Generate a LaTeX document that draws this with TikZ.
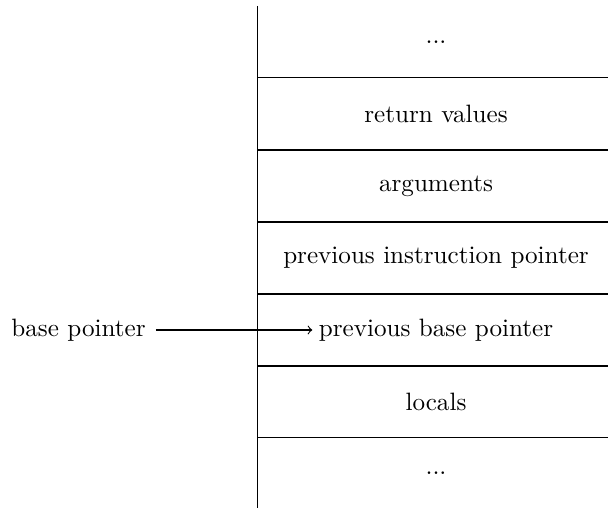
\documentclass[tikz,border=0pt]{standalone}
\begin{document}
\begin{tikzpicture}[x=0.41pt,y=-0.41pt,
  cell/.style={inner sep=0pt,font=\fontsize{10.3}{12}\selectfont},
  sep/.style={line width=0.45pt}]
\useasboundingbox (0,0) rectangle (608,508);
\draw[sep] (257.5,6) -- (257.5,508);
\foreach \y in {77.5,150,222,294,366,437.5}
  \draw[sep] (257.5,\y) -- (608,\y);
\node[cell] (c1) at (436,42) {...};
\node[cell] (c2) at (436,114) {return values};
\node[cell] (c3) at (436,186) {arguments};
\node[cell] (c4) at (436,258) {previous instruction pointer};
\node[cell] (c5) at (436,330) {previous base pointer};
\node[cell] (c6) at (436,402) {locals};
\node[cell] (c7) at (436,473) {...};
\node[cell] (bp) at (78.5,330) {base pointer};
\draw[->,sep,shorten <=4pt,shorten >=2.5pt] (bp) -- (c5);
\end{tikzpicture}
\end{document}
